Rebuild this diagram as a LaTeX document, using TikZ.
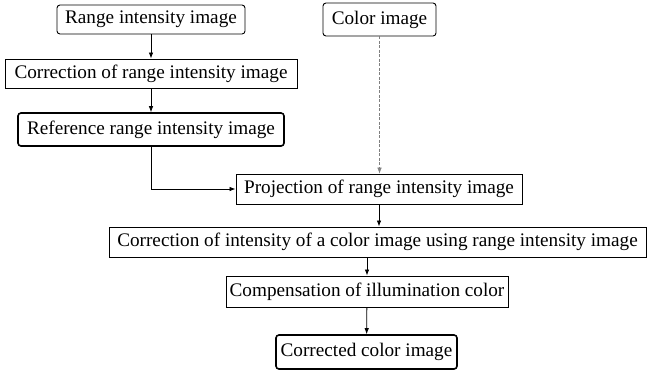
\documentclass[tikz,border=0pt]{standalone}
\usepackage{fontspec}
\setmainfont{Liberation Serif}
\usetikzlibrary{arrows.meta}
\begin{document}
\begin{tikzpicture}[x=1pt,y=-1pt,
  every node/.style={font=\fontsize{19.2}{22}\selectfont},
  sbox/.style={draw,line width=0.9pt,inner xsep=2pt,minimum height=29pt,inner ysep=1pt},
  rbox/.style={sbox,rounded corners=3pt},
  tbox/.style={rbox,line width=1.6pt,minimum height=33pt},
  flow/.style={-{Latex[length=6pt,width=4.5pt]},line width=0.8pt},
  side/.style={flow,dashed,gray,dash pattern=on 3pt off 1.5pt,line width=0.5pt}]
\useasboundingbox (0,0) rectangle (648,376);
\node[rbox,minimum width=188pt] (rii) at (151,19.5) {Range intensity image};
\node[sbox,minimum width=292pt] (cor) at (151,73.5) {Correction of range intensity image};
\node[tbox,minimum width=266pt] (ref) at (151,129.5) {Reference range intensity image};
\node[rbox,minimum width=113pt,minimum height=33pt] (col) at (379.5,19.5) {Color image};
\node[sbox,minimum width=286pt,minimum height=30pt] (proj) at (379,189) {Projection of range intensity image};
\node[sbox,minimum width=537pt,minimum height=30pt] (ci) at (377.5,242) {Correction of intensity of a color image using range intensity image};
\node[sbox,minimum width=282pt,minimum height=31pt] (comp) at (367,291.5) {Compensation of illumination color};
\node[tbox,minimum width=181pt,minimum height=34pt] (out) at (366.5,352) {Corrected color image};
\draw[flow] (rii) -- (cor);
\draw[flow] (cor) -- (ref);
\draw[flow] (ref.south) |- (proj.west);
\draw[side] (col.south) -- (col.south |- proj.north);
\draw[flow] (proj.south) -- (proj.south |- ci.north);
\draw[flow] (comp.north |- ci.south) -- (comp.north);
\draw[flow] (comp) -- (out);
\end{tikzpicture}
\end{document}
